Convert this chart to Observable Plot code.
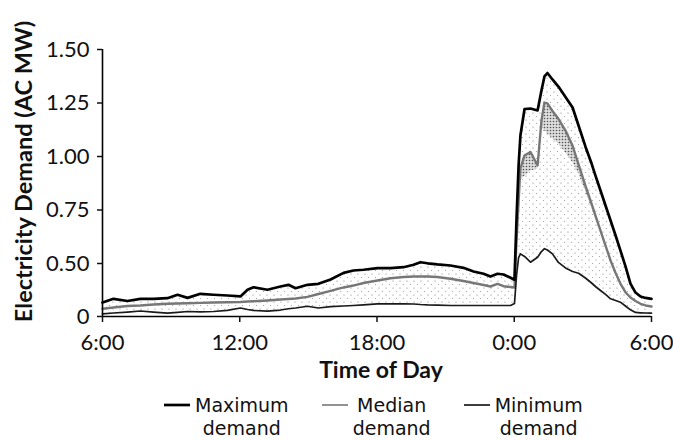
<!DOCTYPE html>
<html><head><meta charset="utf-8">
<script src="https://cdn.jsdelivr.net/npm/d3@7"></script>
<script src="https://cdn.jsdelivr.net/npm/@observablehq/plot@0.6"></script>
<style>
body{margin:0;background:#fff;font-family:Lato,sans-serif;color:#111;}
#chart svg{display:block;}
#legend{display:flex;justify-content:flex-start;gap:33px;margin-top:9px;padding-left:164px;font-family:"DejaVu Sans",sans-serif;font-size:19px;line-height:22.5px;}
.item{display:flex;align-items:flex-start;}
.item svg{margin-right:5px;flex:none;}
.item .txt{text-align:center;}
</style></head><body><div id="chart"></div><div id="legend"></div>
<script>
// Time of day in hours (6 = 6:00, 24 = 0:00, 30 = 6:00 next day)
const hours = [6.00,6.48,7.09,7.66,8.23,8.84,9.28,9.72,10.28,10.85,11.46,12.03,12.34,12.60,13.21,13.78,14.13,14.44,14.96,15.44,15.97,16.54,16.97,17.41,18.02,18.59,19.16,19.60,19.90,20.21,20.64,21.21,21.78,22.22,22.66,22.96,23.27,23.53,23.84,24.01,
 24.10,24.19,24.27,24.45,24.71,25.02,25.19,25.32,25.45,25.67,25.93,26.24,26.55,26.81,27.11,27.38,27.55,27.77,27.99,28.21,28.43,28.64,28.86,29.08,29.30,29.52,29.74,30.00];

const maxDemand = [0.132,0.167,0.146,0.167,0.167,0.173,0.205,0.176,0.214,0.205,0.198,0.189,0.252,0.276,0.252,0.283,0.299,0.267,0.299,0.308,0.349,0.412,0.434,0.441,0.456,0.456,0.465,0.488,0.506,0.501,0.491,0.481,0.459,0.425,0.403,0.377,0.403,0.396,0.365,0.346,
 0.710,0.958,1.098,1.222,1.224,1.215,1.308,1.374,1.390,1.360,1.327,1.278,1.229,1.145,1.047,0.967,0.911,0.841,0.771,0.701,0.631,0.561,0.476,0.311,0.226,0.189,0.175,0.167];

const medianDemand = [0.073,0.085,0.099,0.104,0.113,0.120,0.123,0.125,0.129,0.132,0.135,0.137,0.142,0.144,0.151,0.160,0.165,0.170,0.185,0.212,0.241,0.274,0.292,0.316,0.340,0.361,0.373,0.377,0.377,0.377,0.373,0.356,0.335,0.316,0.297,0.283,0.307,0.286,0.278,0.274,
 0.607,0.794,0.944,1.005,1.021,0.958,1.168,1.252,1.248,1.213,1.176,1.121,1.050,0.963,0.864,0.780,0.724,0.654,0.584,0.514,0.410,0.311,0.229,0.179,0.146,0.120,0.104,0.094];

// lower edge of the shaded median band (only after midnight)
const medianLow = [null,null,null,null,null,null,null,null,null,null,null,null,null,null,null,null,null,null,null,null,null,null,null,null,null,null,null,null,null,null,null,null,null,null,null,null,null,null,null,null,
 null,null,0.888,0.907,0.932,0.940,1.136,1.121,1.107,1.084,1.061,1.019,0.972,0.921,0.840,0.762,0.710,0.650,null,null,null,null,null,null,null,null,null,null];

const minDemand = [0.025,0.033,0.042,0.052,0.042,0.031,0.038,0.047,0.044,0.047,0.057,0.080,0.066,0.057,0.050,0.061,0.073,0.080,0.097,0.080,0.094,0.099,0.104,0.110,0.120,0.120,0.120,0.118,0.113,0.110,0.108,0.104,0.104,0.104,0.104,0.104,0.104,0.104,0.104,0.123,
 0.387,0.528,0.545,0.533,0.506,0.529,0.556,0.569,0.563,0.545,0.505,0.458,0.425,0.408,0.363,0.316,0.283,0.245,0.208,0.167,0.151,0.135,0.099,0.063,0.038,0.035,0.033,0.031];

const xTicks = [6, 12, 18, 24, 30];
const xTickLabels = ["6:00", "12:00", "18:00", "0:00", "6:00"];
const yTicks = [0, 0.5, 0.75, 1, 1.25, 1.5];
const yTickLabels = ["0", "0.50", "0.75", "1.00", "1.25", "1.50"];
const yTitle = "Electricity Demand (AC MW)";
const xTitle = "Time of Day";
const legendLabels = [["Maximum", "demand"], ["Median", "demand"], ["Minimum", "demand"]];

const data = hours.map((h, i) => ({h, max: maxDemand[i], med: medianDemand[i], lo: medianLow[i], min: minDemand[i]}));

const chart = Plot.plot({
  width: 673, height: 385,
  marginLeft: 102, marginRight: 22, marginTop: 49, marginBottom: 69,
  style: {fontFamily: 'Lato, sans-serif', fontSize: "22px", color: "#111", background: "#fff", overflow: "visible"},
  x: {type: "linear", domain: [6, 30]},
  y: {type: "linear", domain: [0, 0.5, 1.5], range: [316, 263, 49]},
  marks: [
    Plot.areaY(data, {x: "h", y1: "min", y2: "max", fill: "url(#stipple)"}),
    Plot.areaY(data, {x: "h", y1: "lo", y2: "med", fill: "url(#dense)"}),
    Plot.lineY(data, {x: "h", y: "med", stroke: "#777", strokeWidth: 2.4}),
    Plot.lineY(data, {x: "h", y: "min", stroke: "#1a1a1a", strokeWidth: 1.7}),
    Plot.lineY(data, {x: "h", y: "max", stroke: "#000", strokeWidth: 2.7}),
    Plot.ruleX([6], {y1: 0, y2: 1.5, stroke: "#000", strokeWidth: 1.6}),
    Plot.ruleY([0], {x1: 6, x2: 30, stroke: "#000", strokeWidth: 1.6}),
    Plot.axisY({ticks: yTicks, tickFormat: d => yTickLabels[yTicks.indexOf(d)], tickSize: 5, tickPadding: 8, strokeWidth: 1.5, label: null}),
    Plot.axisX({ticks: xTicks, tickFormat: d => xTickLabels[xTicks.indexOf(d)], tickSize: 6, tickPadding: 12, strokeWidth: 1.5, label: null}),
    Plot.text([yTitle], {text: d => d, frameAnchor: "left", textAnchor: "middle", lineAnchor: "middle", rotate: -90, dx: -78, dy: -11.5, fontWeight: "bold", fontSize: 23.5}),
    Plot.text([xTitle], {text: d => d, frameAnchor: "bottom", textAnchor: "middle", lineAnchor: "middle", dy: 54, dx: 4, fontWeight: "bold", fontSize: 23})
  ]
});

const defs = d3.select(chart).insert("defs", ":first-child");
const p1 = defs.append("pattern").attr("id", "stipple").attr("patternUnits", "userSpaceOnUse").attr("width", 7).attr("height", 7);
p1.append("circle").attr("cx", 1).attr("cy", 1).attr("r", 0.6).attr("fill", "#777");
p1.append("circle").attr("cx", 4.5).attr("cy", 4.5).attr("r", 0.6).attr("fill", "#999");
const p2 = defs.append("pattern").attr("id", "dense").attr("patternUnits", "userSpaceOnUse").attr("width", 3).attr("height", 3);
p2.append("rect").attr("width", 3).attr("height", 3).attr("fill", "#ddd");
p2.append("circle").attr("cx", 1.5).attr("cy", 1.5).attr("r", 0.8).attr("fill", "#555");

document.getElementById("chart").appendChild(chart);

const swatches = [{stroke: "#000", w: 2.7}, {stroke: "#777", w: 1.6}, {stroke: "#1a1a1a", w: 1.7}];
const legend = d3.select("#legend");
legendLabels.forEach((lines, i) => {
  const item = legend.append("div").attr("class", "item");
  const s = item.append("svg").attr("width", 26).attr("height", 22);
  s.append("line").attr("x1", 0).attr("x2", 26).attr("y1", 11).attr("y2", 11)
    .attr("stroke", swatches[i].stroke).attr("stroke-width", swatches[i].w);
  const t = item.append("div").attr("class", "txt");
  lines.forEach(l => t.append("div").text(l));
});
</script>
</body></html>
